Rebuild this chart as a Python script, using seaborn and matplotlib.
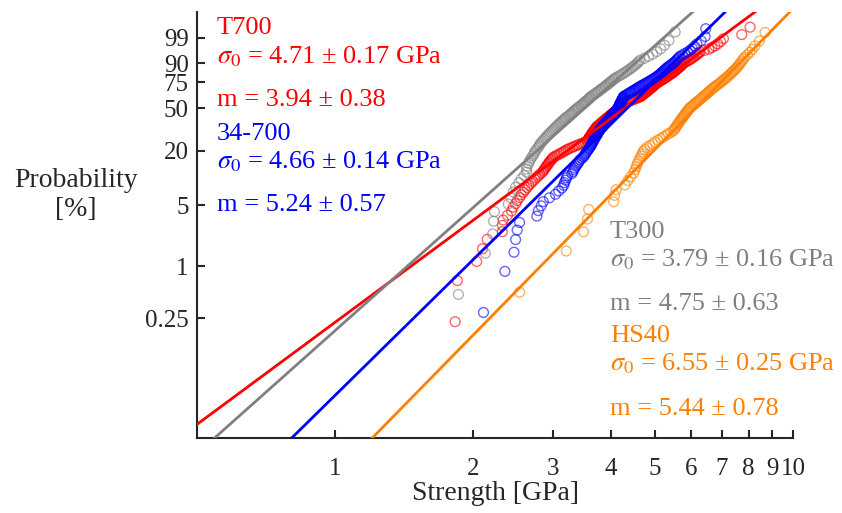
import numpy as np
import pandas as pd
import matplotlib
matplotlib.use("Agg")
import matplotlib.pyplot as plt
from matplotlib.ticker import NullLocator, FixedLocator, FixedFormatter
import seaborn as sns

# ---------------- data (strength values in GPa) ----------------
t700 = [1.83, 1.85, 2.04, 2.10, 2.15, 2.32, 2.32, 2.33, 2.38, 2.43,
        2.45, 2.48, 2.50, 2.53, 2.55, 2.58, 2.60, 2.63,
        2.65, 2.68, 2.70, 2.73, 2.75, 2.78, 2.80, 2.83, 2.85,
        2.86, 2.88, 2.89, 2.90, 2.92, 2.93, 2.94, 2.96, 2.97, 2.99, 3.00,
        3.03, 3.06, 3.09, 3.12, 3.15, 3.17, 3.20, 3.23, 3.26,
        3.30, 3.33, 3.37, 3.40, 3.44, 3.48, 3.51, 3.55,
        3.56, 3.57, 3.58, 3.58, 3.59, 3.60, 3.61, 3.62, 3.63, 3.64, 3.64, 3.65, 3.66, 3.67,
        3.68, 3.69, 3.70, 3.70, 3.71, 3.72, 3.73,
        3.74, 3.76, 3.77, 3.78, 3.80, 3.81, 3.82, 3.83, 3.85, 3.86, 3.87, 3.89, 3.90, 3.91,
        3.92, 3.94, 3.95, 3.96, 3.98, 3.99, 4.00, 4.01, 4.03, 4.04, 4.05, 4.07, 4.08, 4.09,
        4.10, 4.12, 4.13,
        4.14, 4.15, 4.16, 4.17, 4.18, 4.19, 4.20, 4.21, 4.22, 4.23, 4.24, 4.25, 4.26, 4.27,
        4.30, 4.32, 4.35, 4.38, 4.40, 4.43, 4.45, 4.48, 4.51, 4.53, 4.56, 4.59, 4.61, 4.64,
        4.65, 4.67, 4.68, 4.70, 4.71, 4.72, 4.74, 4.75, 4.76, 4.78, 4.79, 4.81, 4.82, 4.83,
        4.85, 4.86, 4.87, 4.89, 4.90, 4.92, 4.93, 4.94, 4.96, 4.97, 4.98, 5.00, 5.01, 5.03, 5.04,
        5.06, 5.08, 5.10, 5.12, 5.14, 5.17, 5.19, 5.21, 5.23, 5.25, 5.27, 5.29, 5.31, 5.33,
        5.35, 5.37, 5.39, 5.42, 5.44, 5.46, 5.48, 5.50, 5.52, 5.54, 5.56, 5.58, 5.60, 5.62,
        5.65, 5.67, 5.69, 5.71, 5.73, 5.75, 5.77,
        5.81, 5.85, 5.90, 5.94, 5.98, 6.02, 6.06, 6.10, 6.15, 6.19, 6.23, 6.27,
        6.40, 6.55, 6.65, 6.75, 6.85, 6.95, 7.05, 7.73, 8.06]

f34_700 = [2.11, 2.35, 2.46, 2.48, 2.50, 2.53, 2.76, 2.78, 2.82, 2.85,
           2.94, 3.03, 3.08, 3.13, 3.16, 3.17, 3.19, 3.20, 3.22, 3.29,
           3.31, 3.32, 3.34, 3.36, 3.38, 3.40, 3.41, 3.43, 3.46, 3.49,
           3.50, 3.52, 3.53, 3.55, 3.56, 3.58, 3.59, 3.61,
           3.62, 3.63, 3.64, 3.65, 3.66, 3.67, 3.68, 3.69, 3.70, 3.71, 3.72, 3.73, 3.74, 3.75,
           3.76, 3.77, 3.78, 3.79,
           3.80, 3.81, 3.83, 3.84, 3.85, 3.86, 3.87, 3.89, 3.90, 3.91, 3.92, 3.94, 3.95, 3.96,
           3.97, 3.98, 4.00, 4.01, 4.02, 4.03, 4.04, 4.06, 4.07, 4.08, 4.09, 4.11, 4.12, 4.13,
           4.14, 4.14, 4.15, 4.16, 4.16, 4.17, 4.18, 4.18, 4.19, 4.19, 4.20, 4.21, 4.21, 4.22,
           4.23, 4.23, 4.24, 4.25, 4.25, 4.26, 4.26, 4.27,
           4.29, 4.31, 4.34, 4.36, 4.38, 4.40, 4.42, 4.44, 4.47, 4.49, 4.51, 4.53, 4.55, 4.58,
           4.60, 4.62, 4.64,
           4.67, 4.69, 4.72, 4.75, 4.77, 4.80, 4.83, 4.85, 4.88, 4.91, 4.93, 4.96, 4.99, 5.01, 5.04,
           5.06, 5.08, 5.11, 5.13, 5.15, 5.17, 5.19, 5.21, 5.24, 5.26, 5.28, 5.30,
           5.33, 5.36, 5.39, 5.42, 5.46, 5.49, 5.52, 5.55, 5.58, 5.61, 5.64, 5.67,
           5.74, 5.81, 5.89, 5.96, 6.03, 6.10, 6.17, 6.30, 6.43, 6.45]

t300 = [1.86, 2.13, 2.21, 2.22, 2.23, 2.39, 2.42, 2.45, 2.48, 2.52,
        2.55, 2.59, 2.62, 2.62, 2.63,
        2.65, 2.66, 2.68, 2.70, 2.72, 2.73, 2.75, 2.77, 2.79, 2.80, 2.82,
        2.84, 2.86, 2.88, 2.90, 2.92, 2.94, 2.96, 2.98, 3.00, 3.02, 3.04, 3.06, 3.08, 3.10,
        3.12, 3.14, 3.16, 3.18, 3.20, 3.23, 3.25, 3.27, 3.29, 3.31, 3.33, 3.35, 3.37, 3.39,
        3.41, 3.44, 3.46, 3.48, 3.50,
        3.52, 3.54, 3.56, 3.58, 3.60, 3.61,
        3.64, 3.66, 3.69, 3.71, 3.74, 3.76, 3.79, 3.81, 3.84, 3.86, 3.89, 3.91, 3.94, 3.96,
        3.99, 4.01, 4.04, 4.06, 4.09,
        4.13, 4.17, 4.21, 4.25, 4.29, 4.33, 4.37, 4.41, 4.45, 4.49,
        4.53, 4.57, 4.60, 4.64, 4.74, 4.84, 4.94, 5.04, 5.14, 5.24, 5.36, 5.53]

hs40 = [2.53, 3.20, 3.49, 3.56, 3.58, 4.06, 4.08, 4.11, 4.30, 4.36,
        4.42, 4.49, 4.52, 4.55, 4.57, 4.60, 4.63, 4.66, 4.69, 4.71, 4.74, 4.80,
        4.87, 4.94, 5.00, 5.07, 5.14, 5.21, 5.28, 5.34, 5.41, 5.48,
        5.51, 5.53, 5.56, 5.58, 5.61, 5.63, 5.66, 5.68, 5.71, 5.73, 5.76, 5.78, 5.81, 5.83,
        5.86, 5.88, 5.91, 5.93, 5.96,
        6.00, 6.04, 6.08, 6.11, 6.15, 6.19, 6.23, 6.27, 6.31, 6.34, 6.38, 6.42, 6.46, 6.50,
        6.54, 6.57, 6.61, 6.65, 6.69,
        6.74, 6.78, 6.83, 6.88, 6.93, 6.97, 7.02, 7.07, 7.12, 7.16, 7.21, 7.26, 7.31, 7.35, 7.40,
        7.45, 7.50, 7.55, 7.60, 7.64, 7.69, 7.74, 7.79, 7.84,
        7.95, 8.05, 8.15, 8.26, 8.45, 8.69]

series_names = ["T700", "34-700", "T300", "HS40"]
sigma0 = [4.71, 4.66, 3.79, 6.55]
sigma0_err = [0.17, 0.14, 0.16, 0.25]
m_vals = [3.94, 5.24, 4.75, 5.44]
m_err = [0.38, 0.57, 0.63, 0.78]
colors = ["#ff0000", "#0000ff", "#808080", "#ff8000"]

prob_ticks = [0.0025, 0.01, 0.05, 0.20, 0.50, 0.75, 0.90, 0.99]
prob_labels = ["0.25", "1", "5", "20", "50", "75", "90", "99"]
x_ticks = [1, 2, 3, 4, 5, 6, 7, 8, 9, 10]
x_labels = ["1", "2", "3", "4", "5", "6", "7", "8", "9", "10"]


def wb(p):
    p = np.asarray(p, dtype=float)
    return np.log(-np.log(1.0 - p))


# ---------------- style ----------------
sns.set_theme(style="white")
plt.rcParams["font.family"] = ["Liberation Serif", "DejaVu Serif"]
plt.rcParams["mathtext.fontset"] = "stix"

W, H = 842, 513
fig = plt.figure(figsize=(W / 100, H / 100), dpi=100)
ax_l, ax_r, ax_t, ax_b = 197, 793, 11.7, 438.3
ax = fig.add_axes([ax_l / W, 1 - ax_b / H, (ax_r - ax_l) / W, (ax_b - ax_t) / H])

datasets = [t700, f34_700, t300, hs40]
order = [0, 2, 1, 3]
xs_line = np.geomspace(0.5, 10, 300)
for k in order:
    vals = np.sort(np.asarray(datasets[k], dtype=float))
    n = len(vals)
    prob = (np.arange(1, n + 1) - 0.5) / n
    df = pd.DataFrame({"strength": vals, "w": wb(prob)})
    sns.scatterplot(data=df, x="strength", y="w", ax=ax, marker="o", s=50,
                    color=colors[k], linewidth=1.0, alpha=0.6, zorder=2)
    coll = ax.collections[-1]
    coll.set_facecolor("none")
    coll.set_edgecolor(colors[k])
    ldf = pd.DataFrame({"x": xs_line,
                        "y": m_vals[k] * (np.log(xs_line) - np.log(sigma0[k]))})
    sns.lineplot(data=ldf, x="x", y="y", ax=ax, color=colors[k], lw=2.0,
                 estimator=None, sort=False, zorder=3)

ax.set_xscale("log")
ax.set_xlim(0.5, 10)
ax.set_ylim(wb(0.0001), wb(0.9999))
ax.xaxis.set_major_locator(FixedLocator(x_ticks))
ax.xaxis.set_major_formatter(FixedFormatter(x_labels))
ax.xaxis.set_minor_locator(NullLocator())
ax.set_yticks(wb(prob_ticks))
ax.set_yticklabels(prob_labels)
ax.yaxis.set_minor_locator(NullLocator())
ax.set_xlabel("")
ax.set_ylabel("")

for side in ["top", "right"]:
    ax.spines[side].set_visible(False)
for side in ["left", "bottom"]:
    ax.spines[side].set_color("#262626")
    ax.spines[side].set_linewidth(1.5)
ax.tick_params(axis="both", which="major", direction="in", length=6, width=1.5,
               color="#262626", labelsize=18, labelcolor="#262626",
               bottom=True, left=True, top=False, right=False)
ax.tick_params(axis="x", pad=14)
ax.tick_params(axis="y", pad=6)
ax.grid(False)

fig.text(76 / W, 1 - 195 / H, "Probability\n[%]", ha="center", va="center",
         fontsize=20, color="#262626", linespacing=1.25)
fig.text(496 / W, 1 - 494 / H, "Strength [GPa]", ha="center", va="center",
         fontsize=20, color="#262626")

def block(x, baselines, k):
    lines = [series_names[k],
             r"$\sigma_0$ = %.2f ± %.2f GPa" % (sigma0[k], sigma0_err[k]),
             "m = %.2f ± %.2f" % (m_vals[k], m_err[k])]
    for txt, yb in zip(lines, baselines):
        fig.text(x / W, 1 - yb / H, txt, ha="left", va="baseline",
                 fontsize=19, color=colors[k])

block(217, [34.3, 63.3, 106], 0)
block(217, [140, 168.3, 210.7], 1)
block(610, [238.3, 266.7, 310], 2)
block(610, [341.7, 370, 415], 3)

fig.savefig("out.png", dpi=100)
